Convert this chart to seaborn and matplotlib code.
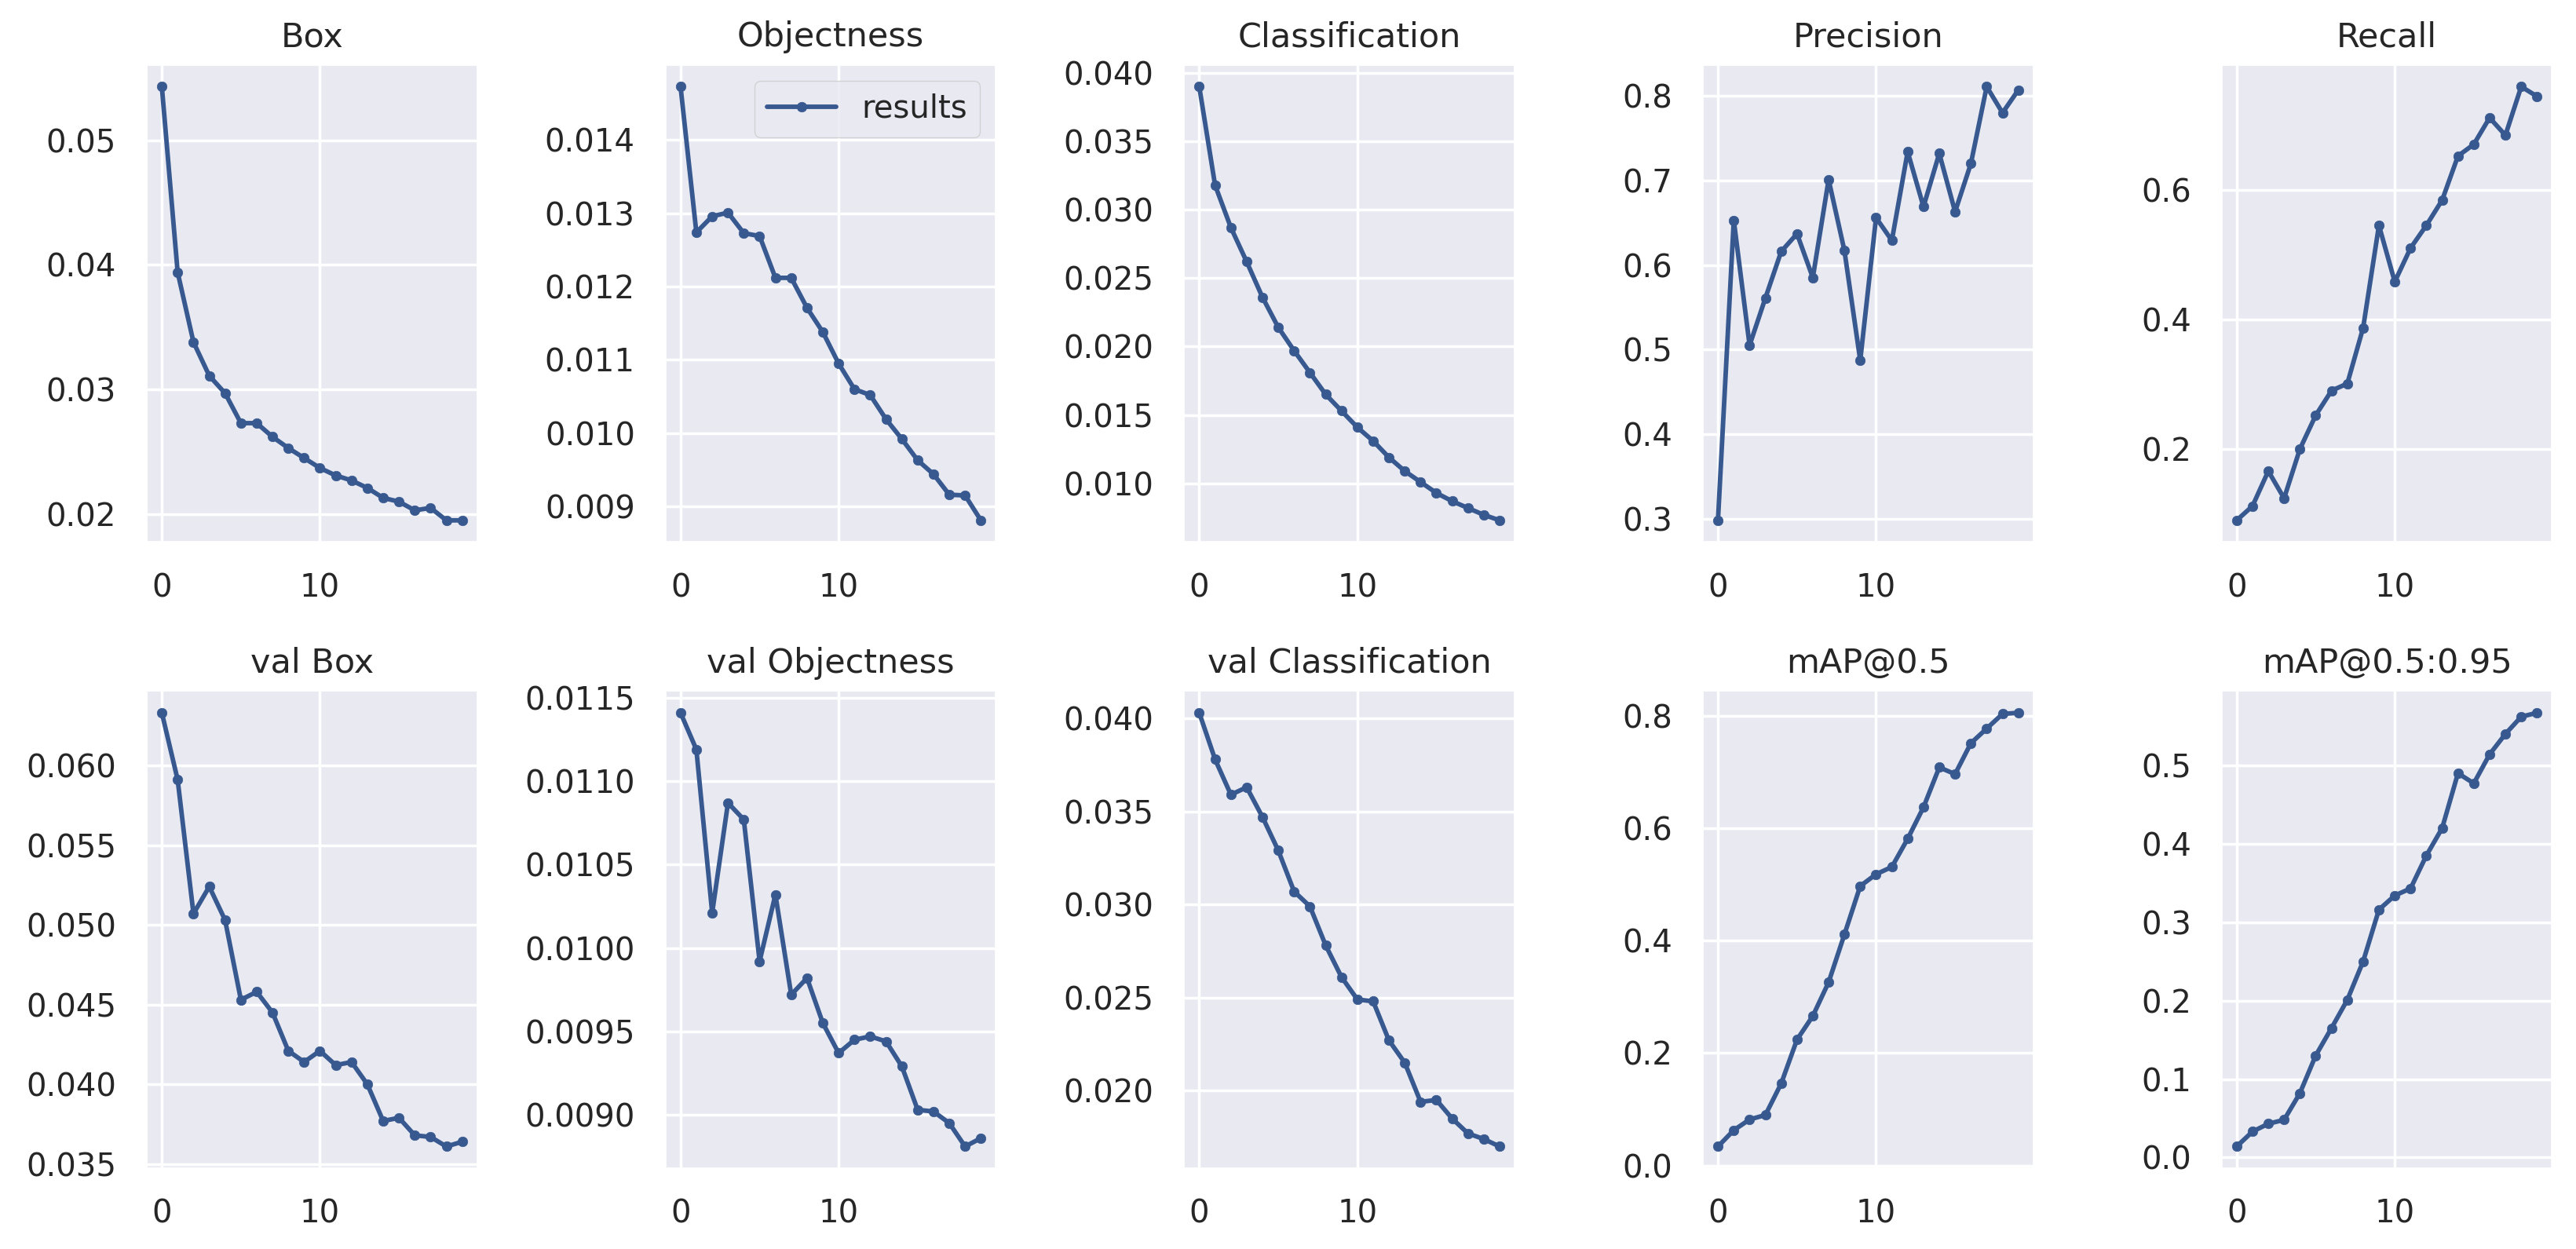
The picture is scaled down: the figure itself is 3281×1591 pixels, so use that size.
import numpy as np
import pandas as pd
import matplotlib
matplotlib.use("Agg")
import matplotlib.pyplot as plt
import seaborn as sns

epochs = list(range(20))

titles = ["Box", "Objectness", "Classification", "Precision", "Recall",
          "val Box", "val Objectness", "val Classification", "mAP@0.5", "mAP@0.5:0.95"]

box = [0.0543, 0.0394, 0.0338, 0.0311, 0.0297, 0.0273, 0.0273, 0.0262, 0.0253, 0.0245,
       0.0237, 0.0231, 0.0227, 0.0221, 0.0213, 0.0210, 0.0203, 0.0205, 0.0195, 0.0195]
objectness = [0.01473, 0.01274, 0.01296, 0.01301, 0.01273, 0.01269, 0.01212, 0.01212, 0.01171, 0.01138,
              0.01095, 0.01060, 0.01052, 0.01019, 0.00992, 0.00963, 0.00944, 0.00916, 0.00915, 0.00881]
classification = [0.0390, 0.0318, 0.0287, 0.0262, 0.0236, 0.0214, 0.0197, 0.0181, 0.0165, 0.0153,
                  0.0141, 0.0131, 0.0119, 0.0109, 0.0101, 0.0093, 0.0087, 0.0082, 0.0077, 0.0073]
precision = [0.298, 0.653, 0.505, 0.561, 0.616, 0.637, 0.585, 0.701, 0.617, 0.487,
             0.656, 0.629, 0.734, 0.669, 0.732, 0.663, 0.720, 0.811, 0.780, 0.807]
recall = [0.090, 0.112, 0.166, 0.124, 0.200, 0.252, 0.290, 0.301, 0.387, 0.545,
          0.458, 0.510, 0.545, 0.584, 0.652, 0.670, 0.711, 0.684, 0.759, 0.744]
val_box = [0.0633, 0.0591, 0.0507, 0.0524, 0.0503, 0.0453, 0.0458, 0.0445, 0.0421, 0.0414,
           0.0421, 0.0412, 0.0414, 0.0400, 0.0377, 0.0379, 0.0368, 0.0367, 0.0361, 0.0364]
val_objectness = [0.01141, 0.01119, 0.01021, 0.01087, 0.01077, 0.00992, 0.01032, 0.00972, 0.00982, 0.00955,
                  0.00937, 0.00945, 0.00947, 0.00944, 0.00929, 0.00903, 0.00902, 0.00895, 0.00881, 0.00886]
val_classification = [0.0403, 0.0378, 0.0359, 0.0363, 0.0347, 0.0329, 0.0307, 0.0299, 0.0278, 0.0261,
                      0.0249, 0.0248, 0.0227, 0.0215, 0.0194, 0.0195, 0.0185, 0.0177, 0.0174, 0.0170]
map50 = [0.034, 0.063, 0.082, 0.090, 0.146, 0.224, 0.266, 0.326, 0.411, 0.497,
         0.518, 0.531, 0.581, 0.637, 0.708, 0.696, 0.751, 0.777, 0.803, 0.805]
map50_95 = [0.014, 0.033, 0.043, 0.048, 0.082, 0.130, 0.165, 0.201, 0.250, 0.316,
            0.334, 0.343, 0.385, 0.420, 0.490, 0.477, 0.514, 0.540, 0.562, 0.567]

series = [box, objectness, classification, precision, recall,
          val_box, val_objectness, val_classification, map50, map50_95]

yticks = [
    [0.02, 0.03, 0.04, 0.05],
    [0.009, 0.010, 0.011, 0.012, 0.013, 0.014],
    [0.010, 0.015, 0.020, 0.025, 0.030, 0.035, 0.040],
    [0.3, 0.4, 0.5, 0.6, 0.7, 0.8],
    [0.2, 0.4, 0.6],
    [0.035, 0.040, 0.045, 0.050, 0.055, 0.060],
    [0.0090, 0.0095, 0.0100, 0.0105, 0.0110, 0.0115],
    [0.020, 0.025, 0.030, 0.035, 0.040],
    [0.0, 0.2, 0.4, 0.6, 0.8],
    [0.0, 0.1, 0.2, 0.3, 0.4, 0.5],
]
xticks = [0, 10]

sns.set_theme(style="darkgrid")
plt.rcParams["font.family"] = ["DejaVu Sans"]
plt.rcParams["axes.facecolor"] = "#E9E9F2"
plt.rcParams["grid.color"] = "white"
plt.rcParams["grid.linewidth"] = 2.5

line_color = "#37598F"

fig, axes = plt.subplots(2, 5, figsize=(32.81, 15.91), dpi=100)
fig.subplots_adjust(left=0.057, right=0.9907, bottom=0.0647, top=0.948,
                    wspace=0.57, hspace=0.3125)

for i, ax in enumerate(axes.flat):
    df = pd.DataFrame({"epoch": epochs, "value": series[i]})
    kw = dict(label="results") if i == 1 else {}
    sns.lineplot(data=df, x="epoch", y="value", ax=ax, color=line_color,
                 linewidth=4.2, marker="o", markersize=9,
                 markeredgecolor=line_color, markeredgewidth=0.5, **kw)
    ax.set_title(titles[i], fontsize=31, color="#262626", pad=17)
    ax.set_xlabel("")
    ax.set_ylabel("")
    ax.set_xticks(xticks)
    ax.set_yticks(yticks[i])
    ax.tick_params(axis="both", labelsize=29, colors="#262626", length=0)
    ax.tick_params(axis="x", pad=28)
    ax.tick_params(axis="y", pad=28)
    if i == 1:
        ax.legend(loc="upper right", fontsize=29, frameon=True,
                  facecolor="#E9E9F2", edgecolor="#CCCCCC",
                  handlelength=2.2, borderpad=0.4)
    else:
        leg = ax.get_legend()
        if leg is not None:
            leg.remove()

fig.savefig("out.png", dpi=100, facecolor="white")
